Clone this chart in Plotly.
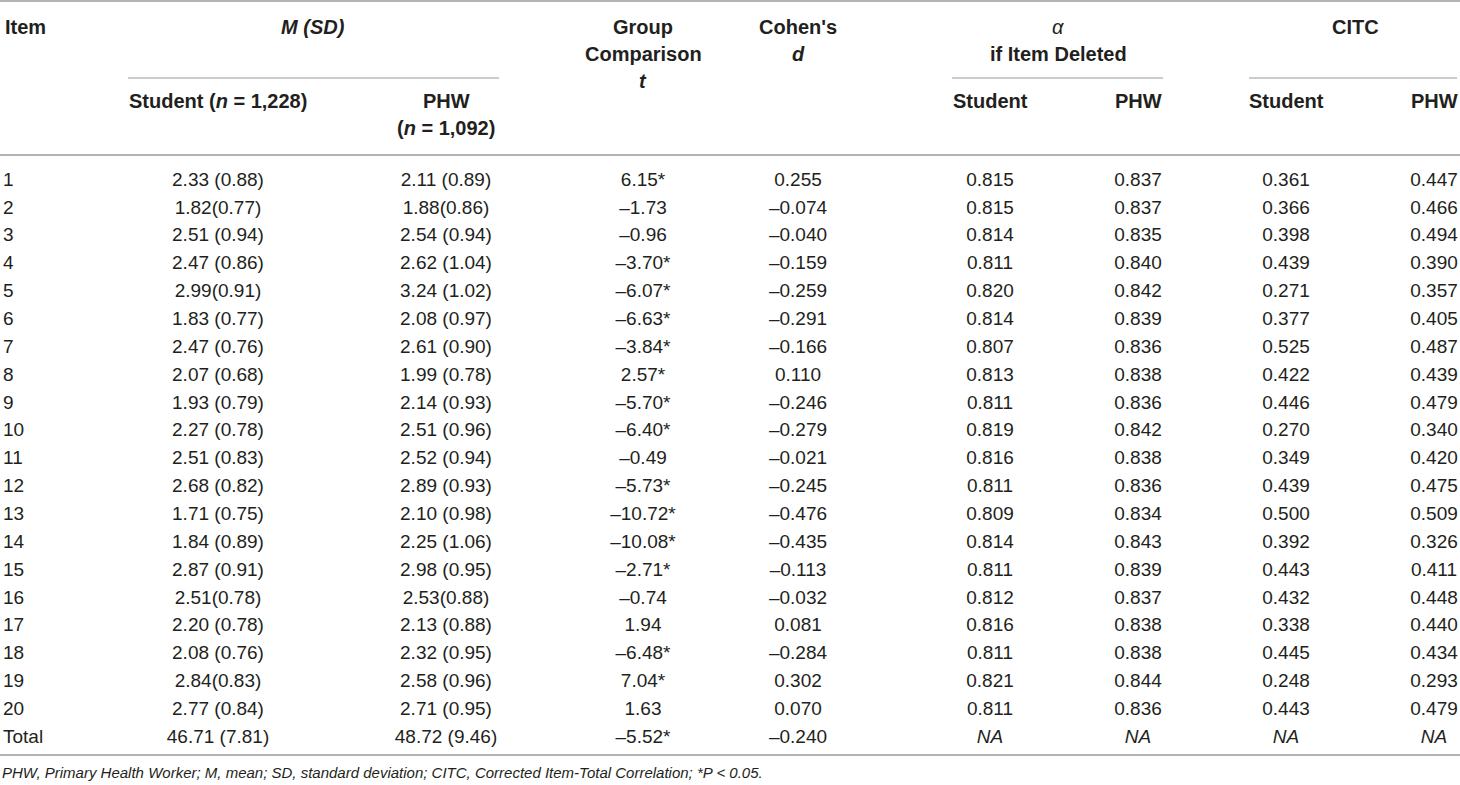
import plotly.graph_objects as go

# table values
items = [str(i) for i in range(1, 21)] + ["Total"]

student_m = ["2.33 (0.88)", "1.82(0.77)", "2.51 (0.94)", "2.47 (0.86)", "2.99(0.91)",
             "1.83 (0.77)", "2.47 (0.76)", "2.07 (0.68)", "1.93 (0.79)", "2.27 (0.78)",
             "2.51 (0.83)", "2.68 (0.82)", "1.71 (0.75)", "1.84 (0.89)", "2.87 (0.91)",
             "2.51(0.78)", "2.20 (0.78)", "2.08 (0.76)", "2.84(0.83)", "2.77 (0.84)",
             "46.71 (7.81)"]
phw_m = ["2.11 (0.89)", "1.88(0.86)", "2.54 (0.94)", "2.62 (1.04)", "3.24 (1.02)",
         "2.08 (0.97)", "2.61 (0.90)", "1.99 (0.78)", "2.14 (0.93)", "2.51 (0.96)",
         "2.52 (0.94)", "2.89 (0.93)", "2.10 (0.98)", "2.25 (1.06)", "2.98 (0.95)",
         "2.53(0.88)", "2.13 (0.88)", "2.32 (0.95)", "2.58 (0.96)", "2.71 (0.95)",
         "48.72 (9.46)"]
t_vals = ["6.15*", "–1.73", "–0.96", "–3.70*", "–6.07*", "–6.63*", "–3.84*", "2.57*",
          "–5.70*", "–6.40*", "–0.49", "–5.73*", "–10.72*", "–10.08*", "–2.71*", "–0.74",
          "1.94", "–6.48*", "7.04*", "1.63", "–5.52*"]
cohen_d = ["0.255", "–0.074", "–0.040", "–0.159", "–0.259", "–0.291", "–0.166", "0.110",
           "–0.246", "–0.279", "–0.021", "–0.245", "–0.476", "–0.435", "–0.113", "–0.032",
           "0.081", "–0.284", "0.302", "0.070", "–0.240"]
alpha_student = ["0.815", "0.815", "0.814", "0.811", "0.820", "0.814", "0.807", "0.813",
                 "0.811", "0.819", "0.816", "0.811", "0.809", "0.814", "0.811", "0.812",
                 "0.816", "0.811", "0.821", "0.811", "<i>NA</i>"]
alpha_phw = ["0.837", "0.837", "0.835", "0.840", "0.842", "0.839", "0.836", "0.838",
             "0.836", "0.842", "0.838", "0.836", "0.834", "0.843", "0.839", "0.837",
             "0.838", "0.838", "0.844", "0.836", "<i>NA</i>"]
citc_student = ["0.361", "0.366", "0.398", "0.439", "0.271", "0.377", "0.525", "0.422",
                "0.446", "0.270", "0.349", "0.439", "0.500", "0.392", "0.443", "0.432",
                "0.338", "0.445", "0.248", "0.443", "<i>NA</i>"]
citc_phw = ["0.447", "0.466", "0.494", "0.390", "0.357", "0.405", "0.487", "0.439",
            "0.479", "0.340", "0.420", "0.475", "0.509", "0.326", "0.411", "0.448",
            "0.440", "0.434", "0.293", "0.479", "<i>NA</i>"]

footnote = ("<i>PHW, Primary Health Worker; M, mean; SD, standard deviation; "
            "CITC, Corrected Item-Total Correlation; *P < 0.05.</i>")

W, H = 1460, 785
TXT = "#231f20"
RULE = "#9a9a9a"
FONT = "Liberation Sans, Arial, sans-serif"

# layout of the table (pixel units on both axes)
row0, step = 181, 27.85
row_y = [row0 + i * step for i in range(len(items))]

columns = [  # (values, x centre)
    (student_m, 218),
    (phw_m, 446),
    (t_vals, 643),
    (cohen_d, 798),
    (alpha_student, 990),
    (alpha_phw, 1138),
    (citc_student, 1286),
    (citc_phw, 1434),
]

fig = go.Figure()

dfont = dict(size=19, color=TXT, family=FONT)
fig.add_trace(go.Scatter(
    x=[3] * len(items), y=row_y, mode="text", text=items,
    textposition="middle right", textfont=dfont,
    hoverinfo="skip", showlegend=False,
))
for vals, cx in columns:
    fig.add_trace(go.Scatter(
        x=[cx] * len(vals), y=row_y, mode="text", text=vals,
        textposition="middle center", textfont=dfont,
        hoverinfo="skip", showlegend=False,
    ))

hfont = dict(size=20, color=TXT, family=FONT)


def head(txt, x, y, anchor="center"):
    fig.add_annotation(x=x, y=y, xref="x", yref="y", text=txt, showarrow=False,
                       xanchor=anchor, yanchor="middle", font=hfont)


head("<b>Item</b>", 3, 27, "left")
head("<b><i>M (SD)</i></b>", 313, 27)
head("<b>Student (<i>n</i> = 1,228)</b>", 218, 101)
head("<b>PHW</b>", 446, 101)
head("<b>(<i>n</i> = 1,092)</b>", 446, 128)
head("<b>Group</b>", 643, 27)
head("<b>Comparison</b>", 643, 54)
head("<b><i>t</i></b>", 643, 81)
head("<b>Cohen's</b>", 798, 27)
head("<b><i>d</i></b>", 798, 54)
head("<i>α</i>", 1058, 27)
head("<b>if Item Deleted</b>", 1058, 54)
head("<b>Student</b>", 990, 101)
head("<b>PHW</b>", 1138, 101)
head("<b>CITC</b>", 1355, 27)
head("<b>Student</b>", 1286, 101)
head("<b>PHW</b>", 1434, 101)

fig.add_annotation(x=0, y=772, xref="x", yref="y", text=footnote, showarrow=False,
                   xanchor="left", yanchor="middle",
                   font=dict(size=15, color=TXT, family=FONT))

rules = [  # (x0, x1, y, width)
    (0, W, 1, 1.5),
    (128, 499, 78, 1.2),
    (952, 1163, 78, 1.2),
    (1249, 1457, 78, 1.2),
    (0, W, 155, 1.5),
    (0, W, 755, 1.5),
]
for x0, x1, y, lw in rules:
    fig.add_shape(type="line", xref="x", yref="y", x0=x0, x1=x1, y0=y, y1=y,
                  line=dict(color=RULE, width=lw))

fig.update_xaxes(range=[0, W], visible=False, fixedrange=True)
fig.update_yaxes(range=[H, 0], visible=False, fixedrange=True)
fig.update_layout(
    width=W, height=H,
    margin=dict(l=0, r=0, t=0, b=0),
    paper_bgcolor="white", plot_bgcolor="white",
)

fig.write_html("out.html", config={"displayModeBar": False},
               post_script="document.body.style.margin='0';"
                           "document.body.style.overflow='hidden';")
